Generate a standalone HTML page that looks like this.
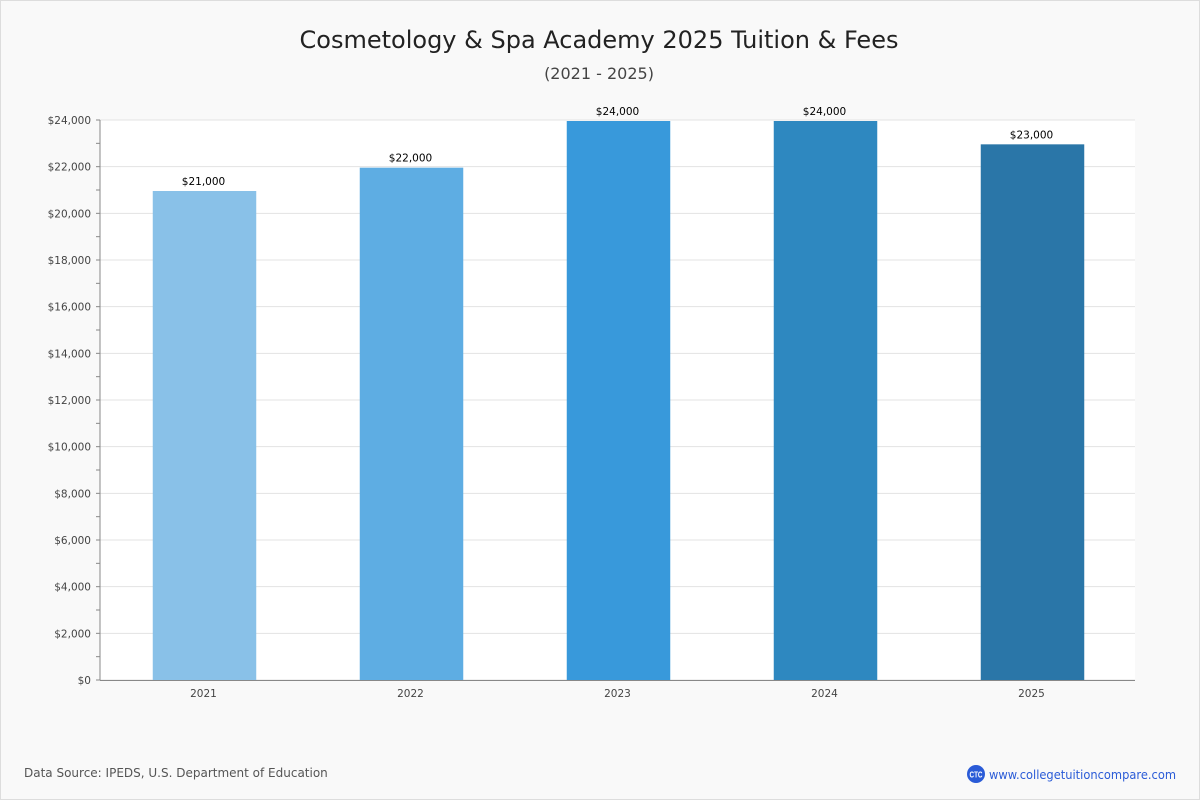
<!DOCTYPE html>
<html><head><meta charset="utf-8"><style>
body{margin:0;background:#fff;}
#wrap{position:relative;width:1198px;height:798px;border:1px solid #ddd;background:#f9f9f9;font-family:"DejaVu Sans","Liberation Sans",sans-serif;}
</style></head><body>
<div id="wrap">
<svg id="chart" width="1198" height="798" style="position:absolute;left:0;top:0">
<text x="598" y="47" text-anchor="middle" font-size="24" fill="#222">Cosmetology &amp; Spa Academy 2025 Tuition &amp; Fees</text>
<text x="598" y="78" text-anchor="middle" font-size="16" fill="#444">(2021 - 2025)</text>
<text x="23" y="776" font-size="12" fill="#555">Data Source: IPEDS, U.S. Department of Education</text>
<g>
<circle cx="975" cy="773" r="9" fill="#2a5bd7"/>
<text x="975" y="776.5" text-anchor="middle" font-size="8" font-weight="bold" fill="#fff" font-family="Liberation Sans,sans-serif" textLength="13" lengthAdjust="spacingAndGlyphs">CTC</text>
<text x="988" y="778" font-size="12.5" fill="#2a5bd7" textLength="187" lengthAdjust="spacingAndGlyphs">www.collegetuitioncompare.com</text>
</g>
</svg>
</div>
<script>
const categories=["2021","2022","2023","2024","2025"];
const values=[21000,22000,24000,24000,23000];
const valueLabels=["$21,000","$22,000","$24,000","$24,000","$23,000"];
const colors=["#89c1e8","#5eade3","#3899db","#2e88c0","#2a76a8"];
const yTicks=[0,2000,4000,6000,8000,10000,12000,14000,16000,18000,20000,22000,24000];
const svg=document.getElementById('chart');
const NS="http://www.w3.org/2000/svg";
const L=99,R=1134,T=119,B=679,yMax=24000;
const y=v=>B-(v/yMax)*(B-T);
const band=(R-L)/categories.length;
const x=i=>L+1+band*i+band/2;
function mk(tag,a){const e=document.createElementNS(NS,tag);for(const k in a)e.setAttribute(k,a[k]);svg.appendChild(e);return e;}
const bg=mk('rect',{x:L,y:T,width:R-L,height:B-T,fill:'#fff'});


yTicks.forEach((t,i)=>{
 const g=mk('line',{x1:L,x2:R,y1:y(t),y2:y(t),stroke:'#e3e3e3'});
 
 
 mk('line',{x1:L-4,x2:L,y1:y(t),y2:y(t),stroke:'#888'});
 if(i<yTicks.length-1){const m=(t+yTicks[i+1])/2;mk('line',{x1:L-4,x2:L,y1:y(m),y2:y(m),stroke:'#888'});}
 const lb=mk('text',{x:L-9,y:y(t)+4,'text-anchor':'end','font-size':10.5,fill:'#444'});
 lb.textContent='$'+t.toLocaleString('en-US');
 
 
});
categories.forEach((c,i)=>{
 const w=band/2;
 const r=mk('rect',{x:x(i)-w/2,y:y(values[i])+1,width:w,height:B-y(values[i])-1,fill:colors[i]});
 
 
 const v=mk('text',{x:x(i)-1,y:y(values[i])-5,'text-anchor':'middle','font-size':10.5,fill:'#000'});
 v.textContent=valueLabels[i];
 
 
 const xl=mk('text',{x:x(i)-1,y:B+17,'text-anchor':'middle','font-size':10.5,fill:'#444'});
 xl.textContent=c;
 
 
});
const ax=mk('line',{x1:L,x2:L,y1:T,y2:B,stroke:'#888'});


const bx=mk('line',{x1:L,x2:R,y1:B+0.5,y2:B+0.5,stroke:'#888'});


</script>
</body></html>
